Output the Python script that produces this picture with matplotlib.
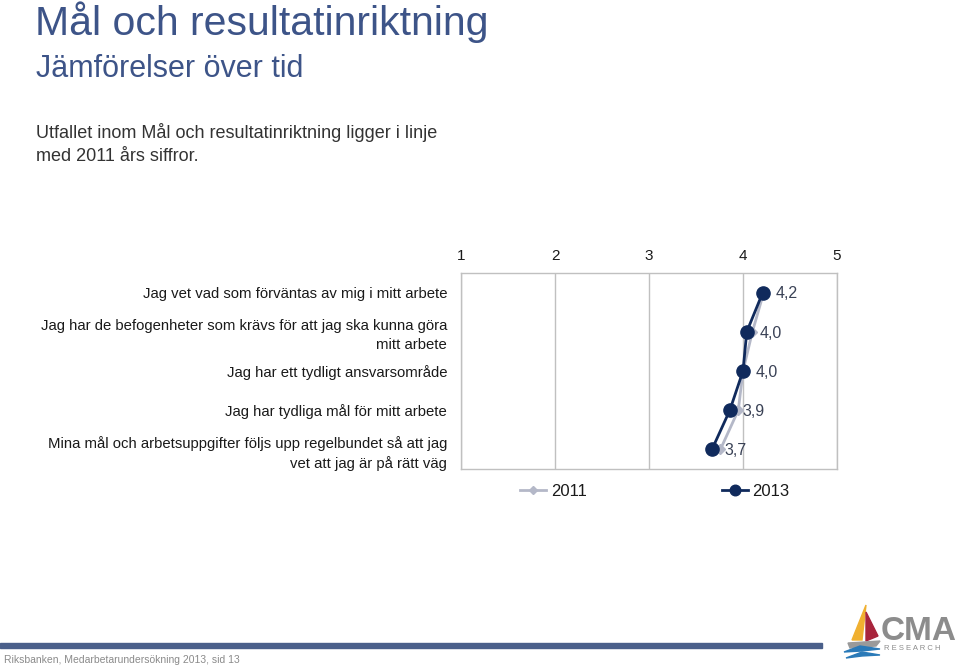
import matplotlib
matplotlib.use("Agg")
import matplotlib.pyplot as plt
from matplotlib.patches import Polygon, Rectangle

plt.rcParams['font.family'] = ['Liberation Sans', 'DejaVu Sans']

# data
questions = [
    "Jag vet vad som förväntas av mig i mitt arbete",
    "Jag har de befogenheter som krävs för att jag ska kunna göra\nmitt arbete",
    "Jag har ett tydligt ansvarsområde",
    "Jag har tydliga mål för mitt arbete",
    "Mina mål och arbetsuppgifter följs upp regelbundet så att jag\nvet att jag är på rätt väg",
]
vals_2011 = [4.22, 4.10, 4.00, 3.95, 3.76]
vals_2013 = [4.21, 4.04, 4.00, 3.86, 3.67]
labels_2013 = ["4,2", "4,0", "4,0", "3,9", "3,7"]
x_ticks = [1, 2, 3, 4, 5]

W, H = 959, 668
fig = plt.figure(figsize=(W / 100, H / 100), dpi=100)
fig.patch.set_facecolor("white")

title_col = "#3d5488"
navy = "#102a5c"
grey = "#b4b8c8"

def fx(px):
    return px / W

def fy(py):
    return 1 - py / H

# header text
fig.text(fx(35), fy(22), "Mål och resultatinriktning", fontsize=29.5, color=title_col, va="center")
fig.text(fx(36), fy(69), "Jämförelser över tid", fontsize=22, color=title_col, va="center")
fig.text(fx(36), fy(144), "Utfallet inom Mål och resultatinriktning ligger i linje\nmed 2011 års siffror.",
         fontsize=13, color="#333333", va="center", linespacing=1.5)

# chart
ax = fig.add_axes([fx(461), fy(469), fx(837) - fx(461), fy(273) - fy(469)])
ypos = list(range(len(questions)))
ax.plot(vals_2011, ypos, color=grey, lw=2, marker="D", ms=5, mfc=grey, mec=grey, zorder=3)
ax.plot(vals_2013, ypos, color=navy, lw=2, marker="o", ms=9.5, mfc=navy, mec=navy, zorder=4)
for v, y, lab in zip(vals_2013, ypos, labels_2013):
    ax.annotate(lab, (v, y), xytext=(9, -1), textcoords="offset points",
                fontsize=11.5, color="#3a4256", va="center", ha="left")

ax.set_xlim(1, 5)
ax.set_ylim(len(questions) - 0.5, -0.5)
ax.set_xticks(x_ticks)
ax.set_xticklabels([str(t) for t in x_ticks])
ax.xaxis.tick_top()
ax.tick_params(axis="x", length=0, pad=7, labelsize=11, labelcolor="#1a1a1a")
ax.set_yticks(ypos)
ax.set_yticklabels(questions, linespacing=1.4)
ax.tick_params(axis="y", length=0, pad=10, labelsize=10.7, labelcolor="#1a1a1a")
ax.grid(axis="x", color="#c0c0c0", lw=1)
ax.set_axisbelow(True)
for s in ax.spines.values():
    s.set_color("#c0c0c0")
    s.set_linewidth(1)

# legend
leg = ax.legend(["2011", "2013"], loc="upper center", bbox_to_anchor=(0.515, 0.0),
                ncol=2, frameon=False, fontsize=12, columnspacing=8.1,
                handlelength=1.6, handletextpad=0.25, markerscale=0.8)
for t in leg.get_texts():
    t.set_color("#1a1a1a")

# footer bar
fig.patches.append(Rectangle((0, fy(648)), fx(822), fy(643) - fy(648),
                             transform=fig.transFigure, color="#4a5f8a", zorder=1))
fig.text(fx(4), fy(660), "Riksbanken, Medarbetarundersökning 2013, sid 13",
         fontsize=7.5, color="#8a8a8a", va="center",
         family=['Liberation Sans Narrow', 'Liberation Sans'])

# logo
def fpoly(pts, color):
    fig.patches.append(Polygon([(fx(a), fy(b)) for a, b in pts], closed=True,
                               transform=fig.transFigure, color=color, zorder=2))

fpoly([(866, 605), (852, 640), (862, 640)], "#f0b030")
fpoly([(866, 612), (878, 636), (866, 641)], "#a8243c")
fpoly([(848, 643), (880, 641), (876, 646), (850, 648)], "#9a9a9a")
fpoly([(844, 652), (860, 646), (880, 649), (862, 651)], "#2a7ab8")
fpoly([(846, 658), (862, 652), (880, 655), (862, 656)], "#2a7ab8")
fig.text(fx(881), fy(631), "CMA", fontsize=24, color="#8c8c8c", weight="bold", va="center",
         family=['Liberation Sans Narrow', 'Liberation Sans'])
fig.text(fx(884), fy(649), "R E S E A R C H", fontsize=5.5, color="#8c8c8c", va="center")

fig.savefig("out.png", dpi=100)
